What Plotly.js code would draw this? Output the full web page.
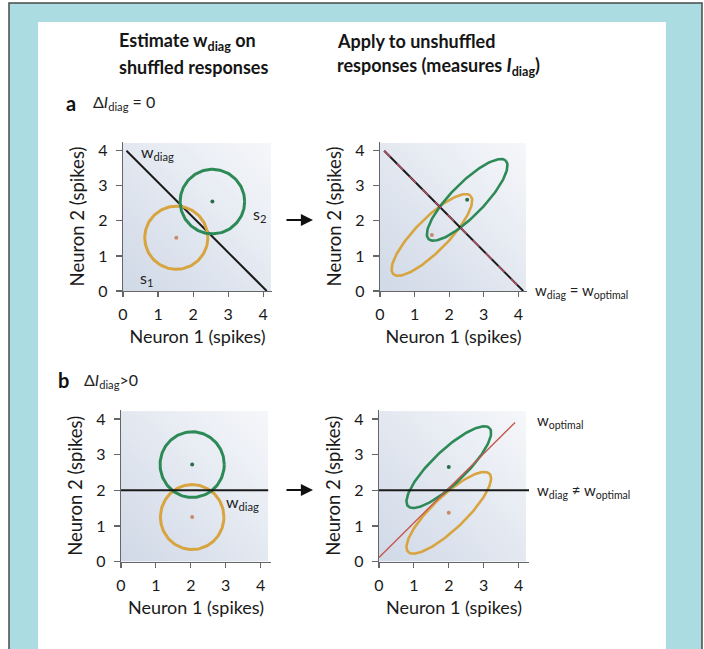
<!DOCTYPE html>
<html><head><meta charset="utf-8">
<script src="https://cdn.plot.ly/plotly-3.0.1.min.js"></script>
<style>html,body{margin:0;padding:0;background:#fff}#chart{width:704px;height:649px}</style>
</head><body><div id="chart"></div>
<script>
// ---------------- data ----------------
const tickVals = [0, 1, 2, 3, 4];
const tickText = ['0', '1', '2', '3', '4'];
const stimNames = ['s1', 's2'];

// panel a (ΔI_diag = 0): shuffled responses (circles)
const aShufCx = [1.52, 2.55];
const aShufCy = [1.52, 2.55];
const aShufR = [0.90, 0.92];
const aWdiagX = [0.10, 4.10];
const aWdiagY = [4.00, 0.00];
// panel a: unshuffled responses (tilted ellipses)
const aUnCx = [1.50, 2.52];
const aUnCy = [1.60, 2.60];
const aUnMajor = [1.58, 1.58];
const aUnMinor = [0.47, 0.47];
const aUnAngle = [45, 45];
const aUnLineX = [0.12, 4.14];
const aUnLineY = [4.00, 0.00];

// panel b (ΔI_diag > 0): shuffled responses (circles)
const bShufCx = [2.04, 2.04];
const bShufCy = [1.25, 2.72];
const bShufR = [0.91, 0.92];
const bWdiagX = [0.00, 4.22];
const bWdiagY = [2.00, 2.00];
// panel b: unshuffled responses (tilted ellipses)
const bUnCx = [2.00, 2.00];
const bUnCy = [1.37, 2.65];
const bUnMajor = [1.60, 1.60];
const bUnMinor = [0.47, 0.47];
const bUnAngle = [43, 43];
const bUnDiagX = [0.00, 4.30];
const bUnDiagY = [2.00, 2.00];
const bWoptX = [0.00, 3.90];
const bWoptY = [0.12, 3.90];

// ---------------- helpers ----------------
const ORANGE = '#d8a43f', GREEN = '#2d8a57';
const DOTC = ['#c98a6a', '#2b6e4a'];
const COLS = [ORANGE, GREEN];
function outline(cx, cy, a, b, angDeg) {
  const xs = [], ys = [], t = angDeg * Math.PI / 180, n = 160;
  for (let i = 0; i <= n; i++) {
    const u = 2 * Math.PI * i / n;
    const ex = a * Math.cos(u), ey = b * Math.sin(u);
    xs.push(cx + ex * Math.cos(t) - ey * Math.sin(t));
    ys.push(cy + ex * Math.sin(t) + ey * Math.cos(t));
  }
  return {x: xs, y: ys};
}
const traces = [];
function addShapes(cx, cy, ra, rb, ang, xa, ya, w) {
  for (let i = 0; i < cx.length; i++) {
    const o = outline(cx[i], cy[i], ra[i], rb[i], ang[i]);
    traces.push({type: 'scatter', mode: 'lines', x: o.x, y: o.y, xaxis: xa, yaxis: ya,
      name: stimNames[i], line: {color: COLS[i], width: w}, hoverinfo: 'skip', showlegend: false});
    traces.push({type: 'scatter', mode: 'markers', x: [cx[i]], y: [cy[i]], xaxis: xa, yaxis: ya,
      marker: {color: DOTC[i], size: 4}, showlegend: false, name: stimNames[i] + ' mean'});
  }
}
function addLine(x, y, xa, ya, color, w, dash) {
  traces.push({type: 'scatter', mode: 'lines', x: x, y: y, xaxis: xa, yaxis: ya,
    line: {color: color, width: w, dash: dash || 'solid'}, showlegend: false, hoverinfo: 'skip'});
}

// panel a-left
addLine(aWdiagX, aWdiagY, 'x', 'y', '#1a1a1a', 2);
addShapes(aShufCx, aShufCy, aShufR, aShufR, [0, 0], 'x', 'y', 3);
// panel a-right
addShapes(aUnCx, aUnCy, aUnMajor, aUnMinor, aUnAngle, 'x2', 'y2', 2.6);
addLine(aUnLineX, aUnLineY, 'x2', 'y2', '#1a1a1a', 2);
addLine(aUnLineX, aUnLineY, 'x2', 'y2', '#c8506a', 1.2, 'dash');
// panel b-left
addShapes(bShufCx, bShufCy, bShufR, bShufR, [0, 0], 'x3', 'y3', 3);
addLine(bWdiagX, bWdiagY, 'x3', 'y3', '#1a1a1a', 2);
// panel b-right
addShapes(bUnCx, bUnCy, bUnMajor, bUnMinor, bUnAngle, 'x4', 'y4', 2.6);
addLine(bWoptX, bWoptY, 'x4', 'y4', '#c4584f', 1.4);
addLine(bUnDiagX, bUnDiagY, 'x4', 'y4', '#1a1a1a', 2);

// ---------------- layout ----------------
const W = 704, H = 649;
const px = v => v / W, py = v => (H - v) / H;
const FONT = 'Lato, "Open Sans", sans-serif';
function xax(left, right, range, anchor) {
  return {domain: [px(left), px(right)], range: range, anchor: anchor, tickvals: tickVals, ticktext: tickText,
    ticks: 'outside', ticklen: 5, tickwidth: 1.2, tickcolor: '#666', showline: true, linecolor: '#666',
    linewidth: 1.2, showgrid: false, zeroline: false, ticklabelstandoff: 4,
    tickfont: {family: FONT, size: 16, color: '#1a1a1a'},
    title: {text: 'Neuron 1 (spikes)', font: {family: FONT, size: 18, color: '#1a1a1a'}, standoff: 8}};
}
function yax(bottom, top, range, anchor) {
  return {domain: [py(bottom), py(top)], range: range, anchor: anchor, tickvals: tickVals, ticktext: tickText,
    ticks: 'outside', ticklen: 6, tickwidth: 1.2, tickcolor: '#666', showline: true, linecolor: '#666',
    linewidth: 1.2, showgrid: false, zeroline: false, ticklabelstandoff: 5,
    tickfont: {family: FONT, size: 16, color: '#1a1a1a'},
    title: {text: 'Neuron 2 (spikes)', font: {family: FONT, size: 18.5, color: '#1a1a1a'}, standoff: 8}};
}
const bg = 'data:image/svg+xml;charset=utf-8,' + encodeURIComponent(
  "<svg xmlns='http://www.w3.org/2000/svg' width='100' height='100' preserveAspectRatio='none'>" +
  "<defs><linearGradient id='g' x1='0' y1='1' x2='1' y2='0'>" +
  "<stop offset='0' stop-color='#d0d9e7'/><stop offset='1' stop-color='#f6f7fa'/></linearGradient></defs>" +
  "<rect width='100' height='100' fill='url(#g)'/></svg>");
function bgImg(xr, yr, sx, sy) {
  return {source: bg, xref: xr, yref: yr, x: 0, y: sy, sizex: sx, sizey: sy,
    sizing: 'stretch', xanchor: 'left', yanchor: 'top', layer: 'below'};
}
function note(text, x, y, opts) {
  return Object.assign({text: text, x: x, y: y, xref: 'paper', yref: 'paper', showarrow: false,
    xanchor: 'left', yanchor: 'middle', font: {family: FONT, size: 16, color: '#222'}}, opts || {});
}
function dnote(text, x, y, xr, yr, size) {
  return {text: text, x: x, y: y, xref: xr, yref: yr, showarrow: false, xanchor: 'left',
    yanchor: 'middle', font: {family: FONT, size: size || 16, color: '#222'}};
}
const HB = {family: FONT, size: 18, color: '#151515', weight: 700};

const layout = {
  width: W, height: H, margin: {l: 0, r: 0, t: 0, b: 0},
  paper_bgcolor: '#ffffff', plot_bgcolor: 'rgba(0,0,0,0)', showlegend: false,
  xaxis: xax(123, 272, [0, 4.25], 'y'), yaxis: yax(291, 142, [0, 4.25], 'x'),
  xaxis2: xax(380, 527, [0, 4.25], 'y2'), yaxis2: yax(291, 142, [0, 4.25], 'x2'),
  xaxis3: xax(121, 271, [0, 4.3], 'y3'), yaxis3: yax(561.7, 410, [0, 4.25], 'x3'),
  xaxis4: xax(379, 529, [0, 4.3], 'y4'), yaxis4: yax(561.7, 410, [0, 4.25], 'x4'),
  images: [bgImg('x', 'y', 4.22, 4.22), bgImg('x2', 'y2', 4.22, 4.22),
           bgImg('x3', 'y3', 4.22, 4.22), bgImg('x4', 'y4', 4.22, 4.22)],
  shapes: [
    {type: 'rect', xref: 'paper', yref: 'paper', x0: px(9), x1: px(702), y0: -0.05, y1: py(3),
     fillcolor: '#aadce2', line: {color: '#4a4a4a', width: 1.5}, layer: 'below'},
    {type: 'rect', xref: 'paper', yref: 'paper', x0: px(38), x1: px(666), y0: -0.05, y1: py(22),
     fillcolor: '#ffffff', line: {width: 0}, layer: 'below'}
  ],
  annotations: [
    note('Estimate w<sub>diag</sub> on', px(117), py(41), {font: HB}),
    note('shuffled responses', px(117), py(67), {font: HB}),
    note('Apply to unshuffled', px(335), py(41), {font: HB}),
    note('responses (measures <i>I</i><sub>diag</sub>)', px(335), py(67), {font: HB}),
    note('<b>a</b>', px(64), py(103), {font: {family: FONT, size: 20, color: '#111', weight: 700}}),
    note('Δ<i>I</i><sub>diag</sub> = 0', px(91), py(103), {font: {family: FONT, size: 16, color: '#222'}}),
    note('<b>b</b>', px(56), py(380), {font: {family: FONT, size: 20, color: '#111', weight: 700}}),
    note('Δ<i>I</i><sub>diag</sub>>0', px(82), py(380), {font: {family: FONT, size: 16, color: '#222'}}),
    dnote('w<sub>diag</sub>', 0.47, 3.95, 'x', 'y', 16),
    dnote('s<sub>2</sub>', 3.64, 2.17, 'x', 'y', 16),
    dnote('s<sub>1</sub>', 0.42, 0.37, 'x', 'y', 16),
    dnote('w<sub>diag</sub>', 2.95, 1.66, 'x3', 'y3', 16),
    note('w<sub>diag</sub> = w<sub>optimal</sub>', px(533), py(291), {font: {family: FONT, size: 15, color: '#222'}}),
    note('w<sub>optimal</sub>', px(535), py(421), {font: {family: FONT, size: 15, color: '#222'}}),
    note('w<sub>diag</sub> ≠ w<sub>optimal</sub>', px(535), py(491), {font: {family: FONT, size: 15, color: '#222'}}),
    {x: px(313), y: py(220), ax: -28, ay: 0, xref: 'paper', yref: 'paper', text: '', showarrow: true,
     arrowhead: 2, arrowsize: 1.1, arrowwidth: 2.2, arrowcolor: '#111'},
    {x: px(313), y: py(490), ax: -28, ay: 0, xref: 'paper', yref: 'paper', text: '', showarrow: true,
     arrowhead: 2, arrowsize: 1.1, arrowwidth: 2.2, arrowcolor: '#111'}
  ]
};
Plotly.newPlot('chart', traces, layout, {displayModeBar: false, staticPlot: true});
</script></body></html>
